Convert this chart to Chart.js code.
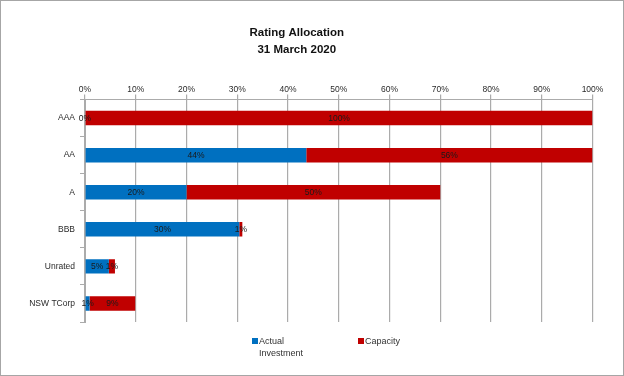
<!DOCTYPE html>
<html lang="en">
<head>
    <meta charset="UTF-8">
    <title>Rating Allocation</title>
    <script src="https://cdn.jsdelivr.net/npm/chart.js"></script>
    <style>
        body {
            margin: 0;
            padding: 0;
            background: #fff;
        }
        #frame {
            position: relative;
            width: 624px;
            height: 376px;
            box-sizing: border-box;
            border: 1px solid #a6a6a6;
            font-family: "Liberation Sans", Arial, sans-serif;
        }
        #frame canvas {
            display: block;
        }
        .legendItem {
            position: absolute;
            font-size: 9px;
            line-height: 12px;
            color: #333;
        }
        .swatch {
            position: absolute;
            width: 6px;
            height: 6px;
            left: -7px;
            top: 3px;
        }
    </style>
</head>
<body>
    <div id="frame">
        <canvas id="barChart" width="622" height="374"></canvas>
        <div class="legendItem" style="left:258px; top:334px;"><span class="swatch" style="background:#0070c0"></span>Actual<br>Investment</div>
        <div class="legendItem" style="left:364px; top:334px;"><span class="swatch" style="background:#c00000"></span>Capacity</div>
    </div>

    <script>
        const categories = ['AAA', 'AA', 'A', 'BBB', 'Unrated', 'NSW TCorp'];
        const actualInvestment = [0, 43.6, 20, 30.4, 4.7, 0.9];
        const capacity = [100, 56.4, 50, 0.6, 1.2, 9.0];
        const tickValues = [0, 10, 20, 30, 40, 50, 60, 70, 80, 90, 100];

        const gridColor = '#ababab';
        const textColor = '#2b2b2b';

        // writes the rounded % value in the middle of each bar piece
        const valueLabels = {
            id: 'valueLabels',
            afterDatasetsDraw(chart) {
                const ctx = chart.ctx;
                ctx.save();
                ctx.font = '8.5px "Liberation Sans", Arial, sans-serif';
                ctx.fillStyle = '#1a1a1a';
                ctx.textAlign = 'center';
                ctx.textBaseline = 'middle';
                chart.data.datasets.forEach((ds, i) => {
                    const meta = chart.getDatasetMeta(i);
                    meta.data.forEach((bar, j) => {
                        const p = bar.getProps(['x', 'y', 'base'], true);
                        ctx.fillText(Math.round(ds.data[j]) + '%', (p.x + p.base) / 2, p.y + 0.5);
                    });
                });
                ctx.restore();
            }
        };

        new Chart(document.getElementById('barChart').getContext('2d'), {
            type: 'bar',
            data: {
                labels: categories,
                datasets: [{
                    label: 'Actual Investment',
                    data: actualInvestment,
                    backgroundColor: '#0070c0',
                    barPercentage: 0.39,
                    categoryPercentage: 1
                }, {
                    label: 'Capacity',
                    data: capacity,
                    backgroundColor: '#c00000',
                    barPercentage: 0.39,
                    categoryPercentage: 1
                }]
            },
            options: {
                indexAxis: 'y',
                responsive: false,
                animation: false,
                layout: {
                    padding: { left: 0, right: 30.5, top: 0, bottom: 53 }
                },
                scales: {
                    x: {
                        position: 'top',
                        stacked: true,
                        min: 0,
                        max: 100,
                        afterBuildTicks: scale => {
                            scale.ticks = tickValues.map(v => ({ value: v }));
                        },
                        afterFit: scale => { scale.height = 30; },
                        ticks: {
                            callback: v => v + '%',
                            color: textColor,
                            padding: 0,
                            maxRotation: 0,
                            font: { family: '"Liberation Sans", Arial, sans-serif', size: 8.5 }
                        },
                        grid: { color: gridColor, tickLength: 5, lineWidth: 1.2 },
                        border: { color: gridColor }
                    },
                    y: {
                        stacked: true,
                        afterFit: scale => { scale.width = 84; },
                        ticks: {
                            color: textColor,
                            padding: 5,
                            font: { family: '"Liberation Sans", Arial, sans-serif', size: 8.5 }
                        },
                        grid: { drawOnChartArea: false, color: gridColor, tickLength: 5 },
                        border: { color: gridColor }
                    }
                },
                plugins: {
                    legend: { display: false },
                    tooltip: { enabled: false },
                    title: {
                        display: true,
                        text: ['Rating Allocation', '31 March 2020'],
                        color: '#111',
                        font: { family: '"Liberation Sans", Arial, sans-serif', size: 11.5, weight: 'bold', lineHeight: 1.48 },
                        padding: { top: 23.5, bottom: 11 }
                    }
                }
            },
            plugins: [valueLabels]
        });
    </script>
</body>
</html>
